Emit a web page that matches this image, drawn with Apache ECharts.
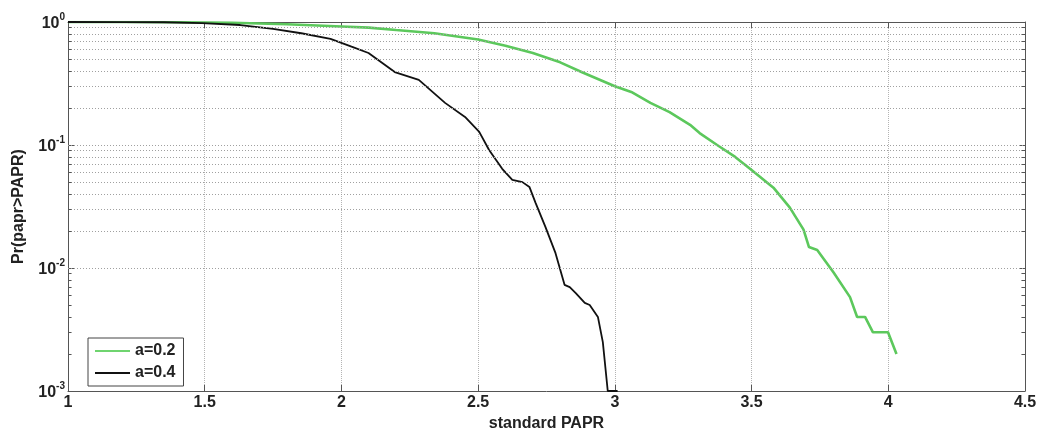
<!DOCTYPE html>
<html>
<head>
<meta charset="utf-8">
<script src="https://cdn.jsdelivr.net/npm/echarts@6/dist/echarts.min.js"></script>
<style>html,body{margin:0;padding:0;background:#fff;}#c{width:1039px;height:428px;}</style>
</head>
<body>
<div id="c"></div>
<script>
// ---- data ----
const seriesNames = ['a=0.2', 'a=0.4'];
const xA02 = [1.0, 1.2, 1.4, 1.6, 1.8, 2.0, 2.1, 2.2, 2.34, 2.5, 2.6, 2.7, 2.8, 2.88, 3.0, 3.06, 3.13, 3.2, 3.275, 3.31, 3.374, 3.44, 3.5, 3.58, 3.64, 3.69, 3.71, 3.74, 3.80, 3.86, 3.886, 3.915, 3.944, 3.999, 4.03];
const yA02 = [1.0, 0.999, 0.995, 0.985, 0.96, 0.92, 0.9, 0.86, 0.81, 0.72, 0.64, 0.56, 0.47, 0.39, 0.30, 0.27, 0.22, 0.185, 0.146, 0.125, 0.1, 0.08, 0.0625, 0.045, 0.031, 0.0205, 0.0148, 0.014, 0.0092, 0.0058, 0.004, 0.004, 0.003, 0.003, 0.002];
const xA04 = [1.0, 1.2, 1.35, 1.49, 1.63, 1.75, 1.853, 1.96, 2.037, 2.099, 2.195, 2.283, 2.379, 2.452, 2.504, 2.54, 2.588, 2.625, 2.662, 2.6875, 2.71, 2.746, 2.783, 2.816, 2.835, 2.857, 2.89, 2.908, 2.938, 2.956, 2.974, 3.01];
const yA04 = [1.0, 0.999, 0.995, 0.98, 0.945, 0.88, 0.81, 0.73, 0.63, 0.56, 0.392, 0.338, 0.22, 0.169, 0.128, 0.091, 0.064, 0.052, 0.0499, 0.0456, 0.0338, 0.0216, 0.0132, 0.0073, 0.007, 0.00626, 0.0052, 0.005, 0.004, 0.0025, 0.001, 0.001];
const xTicks = [1, 1.5, 2, 2.5, 3, 3.5, 4, 4.5];
const yMajor = [0.001, 0.01, 0.1, 1];
const yGridLines = [0.002, 0.003, 0.004, 0.005, 0.006, 0.007, 0.008, 0.009, 0.01,
                    0.02, 0.03, 0.04, 0.05, 0.06, 0.07, 0.08, 0.09, 0.1,
                    0.2, 0.3, 0.4, 0.5, 0.6, 0.7, 0.8, 0.9];
const xTitle = 'standard PAPR';
const yTitle = 'Pr(papr>PAPR)';

const FONT = '"Liberation Sans", Arial, sans-serif';
const zip = (xs, ys) => xs.map((x, i) => [x, ys[i]]);
const xMin = xTicks[0], xMax = xTicks[xTicks.length - 1];

// minor ticks (inside) on left/right borders
const tickSegs = [];
yGridLines.forEach(v => {
  if (yMajor.indexOf(v) >= 0) return;
  tickSegs.push([{coord: [xMin, v]}, {coord: [xMin + 0.013, v]}]);
  tickSegs.push([{coord: [xMax - 0.013, v]}, {coord: [xMax, v]}]);
});

const chart = echarts.init(document.getElementById('c'));
const axisCommon = {
  axisLine: {show: true, lineStyle: {color: '#555', width: 1}},
  axisTick: {show: true, inside: true, length: 6, lineStyle: {color: '#555'}}
};
const txt = {fontFamily: FONT, fontWeight: 'bold', fontSize: 16, color: '#222'};
chart.setOption({
  animation: false,
  backgroundColor: '#fff',
  grid: {left: 68, right: 14, top: 22, bottom: 37, containLabel: false, outerBoundsMode: 'none'},
  legend: {
    orient: 'vertical', left: 88, top: 338,
    data: [{name: seriesNames[0], icon: 'rect'}, {name: seriesNames[1], icon: 'rect'}],
    itemWidth: 35, itemHeight: 2, itemGap: 6,
    padding: [5, 8, 5, 7],
    borderColor: '#444', borderWidth: 1, backgroundColor: '#fff',
    textStyle: Object.assign({}, txt)
  },
  xAxis: [
    Object.assign({
      type: 'value', min: xMin, max: xMax, interval: 0.5, position: 'bottom',
      name: xTitle, nameLocation: 'middle', nameGap: 21,
      nameTextStyle: Object.assign({}, txt),
      axisLabel: Object.assign({margin: 4}, txt),
      splitLine: {show: true, lineStyle: {color: '#b4b4b4', type: [1, 1], width: 1}}
    }, axisCommon),
    Object.assign({
      type: 'value', min: xMin, max: xMax, interval: 0.5, position: 'top',
      axisLabel: {show: false}, splitLine: {show: false}
    }, axisCommon)
  ],
  yAxis: [
    Object.assign({
      type: 'log', logBase: 10, min: yMajor[0], max: yMajor[yMajor.length - 1], position: 'left',
      name: yTitle, nameLocation: 'middle', nameGap: 41,
      nameTextStyle: Object.assign({}, txt),
      axisLabel: {
        margin: 3,
        formatter: v => '{b|10}{s|' + Math.round(Math.log10(v)) + '}',
        rich: {
          b: {fontFamily: FONT, fontWeight: 'bold', fontSize: 16, color: '#222', lineHeight: 19, verticalAlign: 'bottom'},
          s: {fontFamily: FONT, fontWeight: 'bold', fontSize: 10, color: '#222', lineHeight: 19, verticalAlign: 'top'}
        }
      },
      splitLine: {show: false}
    }, axisCommon),
    Object.assign({
      type: 'log', logBase: 10, min: yMajor[0], max: yMajor[yMajor.length - 1], position: 'right',
      axisLabel: {show: false}, splitLine: {show: false}
    }, axisCommon)
  ],
  series: [
    {
      name: seriesNames[0], type: 'line', data: zip(xA02, yA02),
      showSymbol: false, symbol: 'none', smooth: false,
      lineStyle: {color: '#5cc85c', width: 2.6}, itemStyle: {color: '#6fd46f'}, z: 3
    },
    {
      name: seriesNames[1], type: 'line', data: zip(xA04, yA04),
      showSymbol: false, symbol: 'none', smooth: false,
      lineStyle: {color: '#111', width: 1.8}, itemStyle: {color: '#111'}, z: 4
    },
    {
      name: 'grid', type: 'line', data: [], silent: true,
      markLine: {
        silent: true, symbol: 'none', label: {show: false}, animation: false,
        lineStyle: {color: '#a0a0a0', type: [1, 2], width: 1},
        data: yGridLines.map(v => ({yAxis: v}))
      }
    },
    {
      name: 'ticks', type: 'line', data: [], silent: true,
      markLine: {
        silent: true, symbol: 'none', label: {show: false}, animation: false,
        lineStyle: {color: '#555', type: 'solid', width: 1},
        data: tickSegs
      }
    }
  ]
});
</script>
</body>
</html>
